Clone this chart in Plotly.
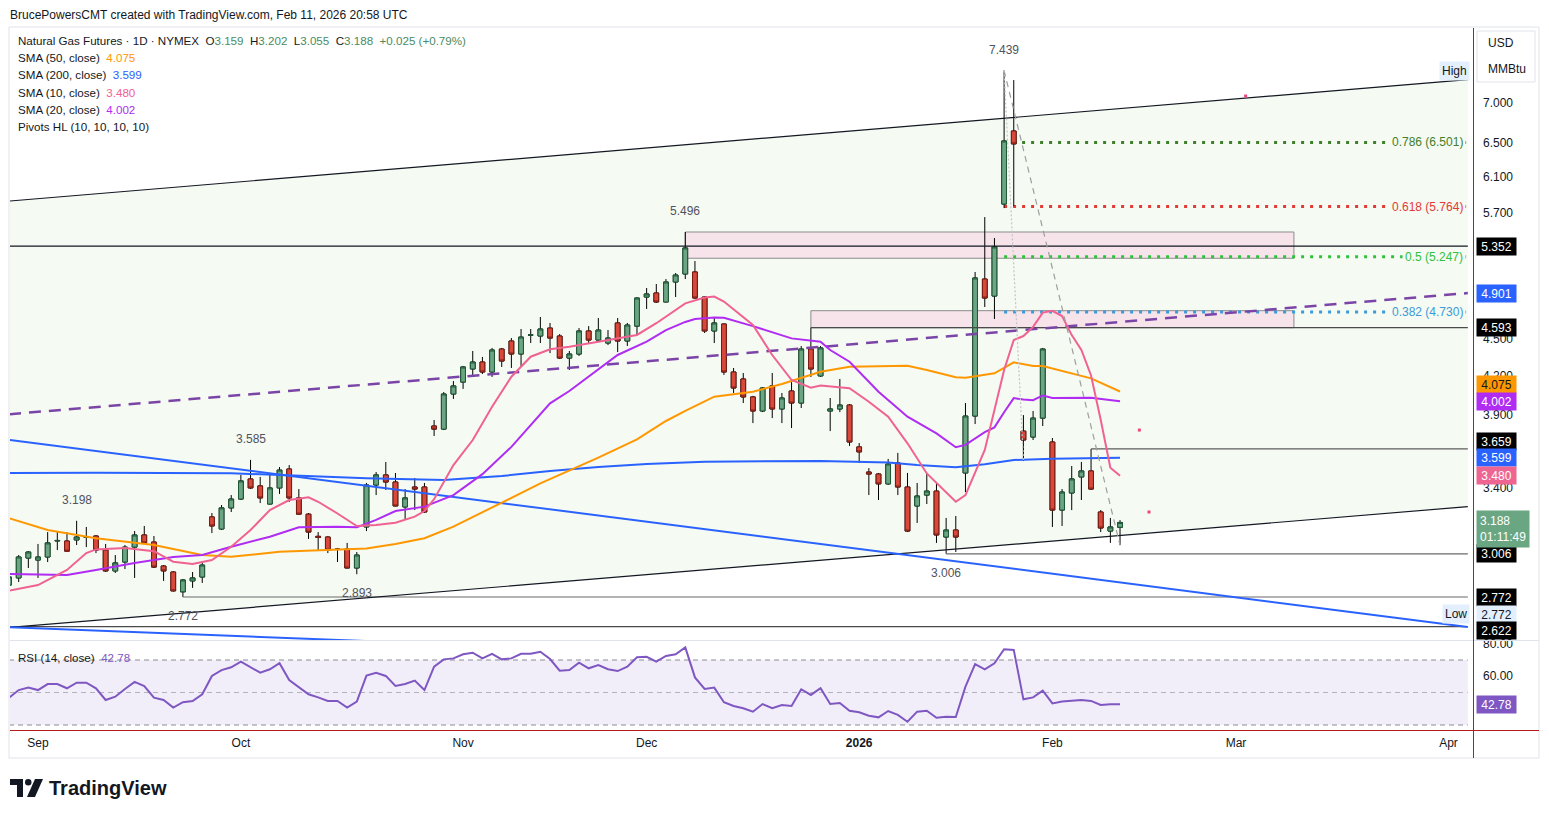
import math
import pandas as pd
import plotly.graph_objects as go

# ------------------------------------------------------------------ data
holidays = ["2025-09-01", "2025-11-27", "2025-12-25", "2026-01-01",
            "2026-01-19", "2026-02-16", "2026-04-03"]

opens = [2.835, 2.873, 2.982, 2.971, 2.988, 3.079, 3.079, 3.085, 3.100, 3.108,
         3.027, 2.911, 2.960, 3.044, 3.114, 3.073, 2.938, 2.905, 2.799, 2.857,
         2.878, 3.221, 3.149, 3.276, 3.331, 3.459, 3.414, 3.300, 3.401, 3.524,
         3.338, 3.238, 3.106, 3.102, 3.033, 3.033, 2.927, 3.161, 3.420, 3.485,
         3.439, 3.282, 3.407, 3.407, 3.820, 3.798, 4.056, 4.148, 4.251, 4.307,
         4.227, 4.413, 4.480, 4.372, 4.530, 4.522, 4.590, 4.522, 4.339, 4.372,
         4.565, 4.488, 4.463, 4.634, 4.480, 4.607, 4.865, 4.902, 4.820, 5.004,
         5.080, 5.099, 4.865, 4.565, 4.625, 4.227, 4.172, 4.034, 3.929, 4.118,
         3.944, 4.079, 3.988, 4.413, 4.196, 3.929, 3.944, 3.973, 3.673, 3.504,
         3.491, 3.427, 3.564, 3.407, 3.288, 3.356, 3.381, 3.102, 3.143, 3.498,
         3.892, 5.032, 4.874, 5.792, 6.642, 3.784, 3.742, 3.877, 3.707, 3.263,
         3.369, 3.472, 3.511, 3.251, 3.137, 3.159]
highs = [2.894, 2.999, 3.021, 3.062, 3.131, 3.131, 3.131, 3.198, 3.161, 3.114,
         3.062, 2.999, 3.056, 3.137, 3.167, 3.108, 2.943, 2.910, 2.867, 2.905,
         2.960, 3.245, 3.294, 3.356, 3.485, 3.585, 3.472, 3.485, 3.537, 3.550,
         3.394, 3.245, 3.131, 3.106, 3.039, 3.068, 3.016, 3.433, 3.504, 3.571,
         3.498, 3.394, 3.465, 3.433, 3.863, 4.071, 4.156, 4.275, 4.397, 4.348,
         4.422, 4.422, 4.505, 4.582, 4.582, 4.686, 4.634, 4.539, 4.397, 4.590,
         4.607, 4.677, 4.573, 4.677, 4.634, 4.860, 4.948, 4.985, 5.032, 5.089,
         5.496, 5.205, 4.874, 4.686, 4.630, 4.259, 4.219, 4.042, 4.110, 4.219,
         4.064, 4.148, 4.438, 4.593, 4.438, 4.026, 4.172, 3.980, 3.700, 3.530,
         3.498, 3.591, 3.632, 3.498, 3.433, 3.498, 3.433, 3.215, 3.227, 3.988,
         5.099, 5.652, 5.434, 7.439, 7.308, 3.899, 3.929, 4.422, 3.735, 3.394,
         3.544, 3.571, 3.659, 3.263, 3.215, 3.202]
lows = [2.820, 2.851, 2.927, 2.873, 2.960, 3.027, 3.018, 3.056, 3.044, 3.010,
        2.905, 2.900, 2.921, 2.873, 3.065, 2.927, 2.857, 2.800, 2.772, 2.820,
        2.846, 3.125, 3.143, 3.251, 3.325, 3.394, 3.306, 3.298, 3.363, 3.313,
        3.236, 3.091, 3.027, 3.010, 2.960, 2.925, 2.893, 3.137, 3.356, 3.388,
        3.286, 3.203, 3.263, 3.245, 3.749, 3.791, 4.019, 4.095, 4.188, 4.211,
        4.188, 4.267, 4.259, 4.275, 4.463, 4.463, 4.380, 4.331, 4.243, 4.356,
        4.463, 4.471, 4.446, 4.388, 4.438, 4.530, 4.757, 4.811, 4.818, 4.865,
        5.032, 4.850, 4.548, 4.463, 4.204, 4.064, 3.988, 3.841, 3.921, 3.877,
        3.841, 3.805, 3.951, 4.188, 4.188, 3.784, 3.921, 3.680, 3.564, 3.356,
        3.325, 3.420, 3.356, 3.131, 3.185, 3.300, 3.068, 3.006, 3.016, 3.375,
        3.834, 4.775, 4.669, 5.748, 5.769, 3.577, 3.721, 3.820, 3.161, 3.167,
        3.263, 3.325, 3.388, 3.131, 3.068, 3.055]
closes = [2.878, 2.988, 3.016, 2.988, 3.068, 3.082, 3.021, 3.102, 3.104, 3.027,
          2.911, 2.955, 3.044, 3.114, 3.068, 2.932, 2.911, 2.804, 2.862, 2.873,
          2.943, 3.167, 3.276, 3.331, 3.446, 3.401, 3.338, 3.401, 3.517, 3.338,
          3.238, 3.131, 3.100, 3.027, 3.031, 2.927, 2.999, 3.420, 3.485, 3.439,
          3.288, 3.338, 3.394, 3.251, 3.798, 4.056, 4.118, 4.267, 4.307, 4.227,
          4.405, 4.315, 4.372, 4.513, 4.531, 4.582, 4.505, 4.339, 4.372, 4.565,
          4.488, 4.573, 4.505, 4.480, 4.616, 4.856, 4.893, 4.820, 5.004, 5.070,
          5.334, 4.856, 4.565, 4.634, 4.227, 4.102, 4.034, 3.929, 4.102, 3.944,
          4.026, 3.988, 4.413, 4.251, 4.422, 3.944, 3.973, 3.707, 3.639, 3.491,
          3.427, 3.557, 3.407, 3.137, 3.350, 3.381, 3.114, 3.143, 3.102, 3.892,
          5.042, 4.856, 5.344, 6.519, 6.483, 3.721, 3.877, 4.413, 3.263, 3.375,
          3.459, 3.511, 3.394, 3.155, 3.161, 3.188]
rsi = [46.8, 51.5, 53.0, 51.5, 55.2, 55.2, 52.6, 56.0, 56.0, 52.6,
       45.4, 47.4, 52.2, 56.5, 54.0, 46.8, 45.4, 40.7, 44.0, 44.8,
       48.9, 60.2, 63.8, 65.5, 69.0, 65.5, 62.2, 64.3, 68.0, 57.7,
       53.2, 48.9, 47.0, 44.8, 44.8, 40.7, 44.4, 60.4, 62.2, 60.2,
       54.0, 55.2, 57.3, 51.5, 65.9, 70.4, 71.0, 73.5, 74.5, 71.0,
       73.8, 70.4, 71.0, 73.8, 73.8, 75.1, 70.6, 63.4, 63.8, 68.4,
       64.9, 66.9, 64.3, 63.2, 65.9, 71.7, 72.0, 69.0, 72.5, 73.5,
       77.8, 59.3, 52.2, 53.0, 44.0, 41.7, 40.3, 38.2, 42.9, 40.3,
       42.3, 41.7, 52.0, 48.5, 52.6, 42.9, 43.5, 38.8, 37.8, 35.7,
       34.7, 38.6, 36.2, 32.0, 38.2, 38.8, 34.5, 35.1, 34.9, 53.6,
       67.5, 64.3, 68.0, 76.6, 76.2, 45.8, 47.0, 51.1, 43.3, 44.4,
       45.0, 45.4, 44.8, 42.3, 42.7, 42.78]

sma10_dates = ["2025-08-27", "2025-09-02", "2025-09-05", "2025-09-09", "2025-09-10", "2025-09-15",
               "2025-09-18", "2025-09-22", "2025-09-24", "2025-09-26", "2025-09-30", "2025-10-02",
               "2025-10-06", "2025-10-08", "2025-10-10", "2025-10-13", "2025-10-15", "2025-10-17",
               "2025-10-21", "2025-10-23", "2025-10-27", "2025-10-28", "2025-10-29", "2025-10-30",
               "2025-10-31", "2025-11-04", "2025-11-06", "2025-11-10", "2025-11-12", "2025-11-14",
               "2025-11-18", "2025-11-21", "2025-11-28", "2025-12-02", "2025-12-05", "2025-12-09",
               "2025-12-10", "2025-12-11", "2025-12-16", "2025-12-18", "2025-12-22", "2025-12-24",
               "2025-12-26", "2025-12-31", "2026-01-05", "2026-01-07", "2026-01-09", "2026-01-13",
               "2026-01-16", "2026-01-20", "2026-01-21", "2026-01-22", "2026-01-23", "2026-01-26",
               "2026-01-27", "2026-01-28", "2026-01-29", "2026-01-30", "2026-02-02", "2026-02-03",
               "2026-02-04", "2026-02-05", "2026-02-06", "2026-02-09", "2026-02-10", "2026-02-11"]
sma10_vals = [2.805, 2.835, 2.916, 3.010, 3.031, 3.039, 3.021, 2.962, 2.949, 2.971, 3.046, 3.143,
              3.263, 3.325, 3.342, 3.314, 3.242, 3.167, 3.173, 3.186, 3.223, 3.257, 3.33, 3.44,
              3.55, 3.721, 3.961, 4.190, 4.350, 4.411, 4.432, 4.474, 4.531, 4.632, 4.808, 4.860,
              4.869, 4.824, 4.617, 4.364, 4.164, 4.105, 4.121, 4.100, 3.998, 3.887, 3.698, 3.495,
              3.314, 3.356, 3.50, 3.652, 3.936, 4.243, 4.488, 4.522, 4.60, 4.725, 4.741, 4.695,
              4.53, 4.405, 4.20, 3.865, 3.533, 3.480]

sma20_dates = ["2025-08-27", "2025-09-05", "2025-09-10", "2025-09-16", "2025-09-22", "2025-09-25",
               "2025-09-30", "2025-10-06", "2025-10-09", "2025-10-15", "2025-10-17", "2025-10-21",
               "2025-10-23", "2025-10-28", "2025-10-31", "2025-11-05", "2025-11-10", "2025-11-11",
               "2025-11-14", "2025-11-18", "2025-11-20", "2025-11-25", "2025-12-01", "2025-12-03",
               "2025-12-05", "2025-12-08", "2025-12-10", "2025-12-11", "2025-12-16", "2025-12-22",
               "2025-12-26", "2025-12-29", "2025-12-31", "2026-01-06", "2026-01-09", "2026-01-14",
               "2026-01-16", "2026-01-20", "2026-01-22", "2026-01-23", "2026-01-26", "2026-01-27",
               "2026-01-28", "2026-01-29", "2026-01-30", "2026-02-02", "2026-02-06", "2026-02-11"]
sma20_vals = [2.894, 2.889, 2.916, 2.955, 2.988, 2.999, 3.046, 3.104, 3.159, 3.163, 3.159, 3.203,
              3.257, 3.284, 3.356, 3.49, 3.673, 3.748, 3.986, 4.079, 4.190, 4.364, 4.474, 4.573,
              4.643, 4.669, 4.682, 4.680, 4.607, 4.502, 4.474, 4.405, 4.309, 4.074, 3.887, 3.767,
              3.671, 3.687, 3.776, 3.81, 3.92, 4.025, 4.014, 4.009, 4.045, 4.026, 4.028, 4.002]

sma50_dates = ["2025-08-27", "2025-09-03", "2025-09-10", "2025-09-18", "2025-09-25", "2025-09-30",
               "2025-10-07", "2025-10-15", "2025-10-20", "2025-10-23", "2025-10-28", "2025-10-31",
               "2025-11-07", "2025-11-13", "2025-11-21", "2025-11-28", "2025-12-03", "2025-12-05",
               "2025-12-10", "2025-12-16", "2025-12-19", "2025-12-26", "2025-12-31", "2026-01-09",
               "2026-01-13", "2026-01-16", "2026-01-20", "2026-01-23", "2026-01-27", "2026-01-29",
               "2026-01-30", "2026-02-06", "2026-02-11"]
sma50_vals = [3.213, 3.143, 3.095, 3.056, 2.999, 2.990, 3.017, 3.031, 3.036, 3.062, 3.095, 3.163,
              3.31, 3.43, 3.60, 3.725, 3.856, 3.93, 4.036, 4.074, 4.133, 4.229, 4.268, 4.276,
              4.243, 4.185, 4.182, 4.217, 4.304, 4.275, 4.275, 4.177, 4.075]

sma200_dates = ["2025-08-27", "2025-09-10", "2025-09-30", "2025-10-20", "2025-10-30", "2025-11-07",
                "2025-11-14", "2025-11-21", "2025-12-01", "2025-12-09", "2025-12-26", "2026-01-07",
                "2026-01-12", "2026-01-16", "2026-01-22", "2026-01-27", "2026-02-02", "2026-02-11"]
sma200_vals = [3.498, 3.500, 3.496, 3.463, 3.452, 3.478, 3.511, 3.537, 3.557, 3.573, 3.577, 3.567,
               3.550, 3.535, 3.555, 3.584, 3.592, 3.599]

# month tick labels
tick_dates = ["2025-09-02", "2025-10-01", "2025-11-03", "2025-12-01",
              "2026-01-02", "2026-02-02", "2026-03-02", "2026-04-01"]
tick_labels = ["Sep", "Oct", "Nov", "Dec", "<b>2026</b>", "Feb", "Mar", "Apr"]
price_ticks = [3.4, 3.9, 4.2, 4.5, 5.7, 6.1, 6.5, 7.0]
rsi_ticks = [60, 80]

# drawings (anchor dates / prices)
channel_dates = ["2025-08-27", "2026-04-06"]
channel_upper = [5.824, 7.314]
channel_lower = [2.618, 3.284]
channel_mid = [3.905, 4.901]
blue_trend_dates = ["2025-08-27", "2026-04-06"]
blue_trend_vals = [3.722, 2.620]
blue_trend2_dates = ["2025-08-27", "2025-10-23"]
blue_trend2_vals = [2.619, 2.547]
rays = [("2025-08-27", 5.352, "#131722"), ("2025-12-24", 4.593, "#4a4a4a"),
        ("2026-02-06", 3.659, "#5d5d5d"), ("2026-01-15", 3.006, "#6a6a6a"),
        ("2025-09-23", 2.772, "#6a6a6a"), ("2025-08-27", 2.622, "#4a4a4a")]
zones = [("2025-12-05", "2026-03-10", 5.496, 5.232),
         ("2025-12-24", "2026-03-10", 4.742, 4.593)]
fib_start = "2026-01-26"
fib_levels = [("0.786", 6.501, "#3f7f2a"), ("0.618", 5.764, "#e53935"),
              ("0.5", 5.247, "#2fc23a"), ("0.382", 4.730, "#3b9ad9")]
fib_trend = [("2026-01-26", 7.439), ("2026-02-11", 3.055)]
fib_trend_old = [("2026-01-26", 7.439), ("2026-01-28", 3.577)]
pink_dot_dates = ["2026-02-13", "2026-02-17", "2026-03-03"]
pink_dot_vals = [3.791, 3.251, 7.093]
pivots = [("2026-01-26", 7.439, "high"), ("2025-12-05", 5.496, "high"),
          ("2025-10-02", 3.585, "high"), ("2025-09-08", 3.198, "high"),
          ("2025-10-17", 2.893, "low"), ("2025-09-23", 2.772, "low"),
          ("2026-01-15", 3.006, "low")]

# ------------------------------------------------------------------ geometry
W, H = 1549, 818
PL, PR, PT, PB = 10, 1473, 28, 730
MAIN_BOT, RSI_TOP = 640.5, 641
BAR_PX = 9.661
PX_PER_LOG10 = 1227.96


def xp(px):
    return (px - PL) / (PR - PL)


def yp(py):
    return (PB - py) / (PB - PT)


cal = pd.bdate_range("2025-08-27", "2026-04-30", freq="C", holidays=holidays)
cal_str = [d.strftime("%Y-%m-%d") for d in cal]
pos = {d: k for k, d in enumerate(cal_str)}
n = len(closes)
assert all(len(a) == n for a in (opens, highs, lows, rsi))
dates = cal_str[:n]
xs = [pos[d] for d in dates]

X0 = 3 + (PL - 38) / BAR_PX
X1 = 3 + (PR - 38) / BAR_PX
RIGHT = pos["2026-04-06"]
Y_TOP = math.log10(7) + (103 - PT) / PX_PER_LOG10
Y_BOT = math.log10(7) - (MAIN_BOT - 103) / PX_PER_LOG10
RSI_HI = 70 + (660 - RSI_TOP) / 1.625
RSI_LO = 70 - (PB - 660) / 1.625

FONT = "Liberation Sans, Arial, sans-serif"
TXT = "#131722"
CH_BG = "#f5faf3"

fig = go.Figure()
shapes = []


def line_trace(x, y, color, width=1.0, dash=None, xaxis="x", yaxis="y", mode="lines", **kw):
    fig.add_trace(go.Scatter(x=x, y=y, mode=mode, line=dict(color=color, width=width, dash=dash),
                             hoverinfo="skip", showlegend=False, xaxis=xaxis, yaxis=yaxis, **kw))


# ---- background drawings as shapes (below all traces)
cx = [pos[d] for d in channel_dates]
shapes.append(dict(type="path", xref="x", yref="y", layer="below",
                   path="M %f,%f L %f,%f L %f,%f L %f,%f Z" % (
                       cx[0], channel_upper[0], cx[1], channel_upper[1],
                       cx[1], channel_lower[1], cx[0], channel_lower[0]),
                   fillcolor=CH_BG, line=dict(width=0)))
for d0, d1, top, bot in zones:
    shapes.append(dict(type="rect", xref="x", yref="y", layer="below",
                       x0=pos[d0], x1=pos[d1], y0=bot, y1=top,
                       fillcolor="#f7e4ea", line=dict(color="#8c8c8c", width=1)))
for lab, p, c in fib_levels:
    shapes.append(dict(type="line", xref="x", yref="y", layer="below",
                       x0=pos[fib_start], x1=RIGHT, y0=p, y1=p,
                       line=dict(color=c, width=3, dash="3px,6px")))

# ---- candles: wicks then bodies
fig.add_trace(go.Candlestick(x=xs, open=opens, high=highs, low=lows, close=closes,
                             increasing=dict(line=dict(color="#000000", width=1), fillcolor="#6ba583"),
                             decreasing=dict(line=dict(color="#000000", width=1), fillcolor="#d9493b"),
                             whiskerwidth=0, hoverinfo="skip", showlegend=False))
body_hi = [max(o, c) for o, c in zip(opens, closes)]
body_lo = [min(o, c) for o, c in zip(opens, closes)]
fig.add_trace(go.Candlestick(x=xs, open=opens, high=body_hi, low=body_lo, close=closes,
                             increasing=dict(line=dict(color="#1f5a37", width=1), fillcolor="#6ba583"),
                             decreasing=dict(line=dict(color="#7a1c12", width=1), fillcolor="#d9493b"),
                             whiskerwidth=0, hoverinfo="skip", showlegend=False))

# ---- line drawings
for d, p, c in rays:
    line_trace([pos[d], RIGHT], [p, p], c, 1.2)
line_trace(cx, channel_upper, "#131722", 1.2)
line_trace(cx, channel_lower, "#131722", 1.2)
line_trace(cx, channel_mid, "#7b45a8", 2.5, dash="12px,8px")
line_trace([pos[d] for d in blue_trend_dates], blue_trend_vals, "#2962ff", 2)
line_trace([pos[d] for d in blue_trend2_dates], blue_trend2_vals, "#2962ff", 2)

# ---- SMAs
line_trace([pos[d] for d in sma200_dates], sma200_vals, "#2962ff", 2)
line_trace([pos[d] for d in sma50_dates], sma50_vals, "#ff9800", 2)
line_trace([pos[d] for d in sma20_dates], sma20_vals, "#b02cf2", 2)
line_trace([pos[d] for d in sma10_dates], sma10_vals, "#f06292", 2)

# ---- fib trend lines
line_trace([pos[d] for d, _ in fib_trend], [p for _, p in fib_trend], "#9e9e9e", 1.2, dash="6px,5px")
line_trace([pos[d] for d, _ in fib_trend_old], [p for _, p in fib_trend_old], "#c4c4c4", 1.2, dash="2px,2px")

# ---- pink dots
fig.add_trace(go.Scatter(x=[pos[d] for d in pink_dot_dates], y=pink_dot_vals, mode="markers",
                         marker=dict(symbol="square", size=3, color="#f0457d"),
                         hoverinfo="skip", showlegend=False))

# ---- RSI pane
line_trace([0, RIGHT, RIGHT, 0, 0], [30, 30, 70, 70, 30], "#f2eef9", 0, xaxis="x2", yaxis="y2",
           fill="toself", fillcolor="#f2eef9")
line_trace([0, RIGHT], [70, 70], "#8a8d96", 1, dash="5px,4px", xaxis="x2", yaxis="y2")
line_trace([0, RIGHT], [50, 50], "#b0b3bb", 1, dash="5px,4px", xaxis="x2", yaxis="y2")
line_trace([0, RIGHT], [30, 30], "#8a8d96", 1, dash="5px,4px", xaxis="x2", yaxis="y2")
line_trace(xs, rsi, "#7e57c2", 2, xaxis="x2", yaxis="y2")

# ------------------------------------------------------------------ annotations
ann = []


def A(**kw):
    base = dict(showarrow=False, font=dict(family=FONT, size=12, color=TXT))
    base.update(kw)
    ann.append(base)


A(x=xp(8), y=yp(15), xref="paper", yref="paper", xanchor="left", yanchor="middle",
  text="BrucePowersCMT created with TradingView.com, Feb 11, 2026 20:58 UTC",
  font=dict(family=FONT, size=12, color=TXT))

G = "#4a8c64"
nb = "\u00a0"
legend_rows = [
    "Natural Gas Futures · 1D · NYMEX" + nb * 2 + "O<span style='color:%s'>3.159</span>" % G + nb * 2 +
    "H<span style='color:%s'>3.202</span>" % G + nb * 2 + "L<span style='color:%s'>3.055</span>" % G + nb * 2 +
    "C<span style='color:%s'>3.188</span>" % G + nb * 2 + "<span style='color:%s'>+0.025 (+0.79%%)</span>" % G,
    "SMA (50, close)" + nb * 2 + "<span style='color:#ff9800'>4.075</span>",
    "SMA (200, close)" + nb * 2 + "<span style='color:#2962ff'>3.599</span>",
    "SMA (10, close)" + nb * 2 + "<span style='color:#f06292'>3.480</span>",
    "SMA (20, close)" + nb * 2 + "<span style='color:#b02cf2'>4.002</span>",
    "Pivots HL (10, 10, 10, 10)",
]
for j, t in enumerate(legend_rows):
    A(x=xp(16), y=yp(41 + 17 * j), xref="paper", yref="paper", xanchor="left", yanchor="middle", text=t,
      font=dict(family=FONT, size=11.6, color=TXT))

A(x=xp(16), y=yp(657), xref="paper", yref="paper", xanchor="left", yanchor="middle",
  text="RSI (14, close)" + nb * 2 + "<span style='color:#7e57c2'>42.78</span>",
  font=dict(family=FONT, size=11.6, color=TXT))

# pivot labels
for d, p, kind in pivots:
    A(x=pos[d], y=math.log10(p), xref="x", yref="y", xanchor="center", yanchor="middle",
      yshift=21 if kind == "high" else -19, text="%.3f" % p,
      font=dict(family=FONT, size=12, color="#50535e"))

# fib labels
for lab, p, c in fib_levels:
    A(x=xp(1466), y=math.log10(p), xref="paper", yref="y", xanchor="right", yanchor="middle",
      text="%s (%.3f)" % (lab, p), bgcolor=CH_BG, borderpad=2, font=dict(family=FONT, size=12, color=c))

# right axis price labels
price_labels = [(5.352, "5.352", "#000000", "#ffffff", 0), (4.901, "4.901", "#2962ff", "#ffffff", 0),
                (4.593, "4.593", "#000000", "#ffffff", 0), (4.075, "4.075", "#ff9800", "#131722", 7.5),
                (4.002, "4.002", "#b02cf2", "#ffffff", 0), (3.659, "3.659", "#000000", "#ffffff", 7.5),
                (3.599, "3.599", "#2962ff", "#ffffff", 0), (3.480, "3.480", "#ee6592", "#ffffff", 0),
                (3.006, "3.006", "#000000", "#ffffff", 0), (2.772, "2.772", "#000000", "#ffffff", 0),
                (2.772, "2.772", "#e3effd", "#131722", -17), (2.622, "2.622", "#000000", "#ffffff", -4)]
for p, t, bg, fg, sh in price_labels:
    A(x=xp(1476), y=math.log10(p), xref="paper", yref="y", xanchor="left", yanchor="middle",
      yshift=sh, text=t, bgcolor=bg, width=35, height=13, borderpad=2, align="center",
      font=dict(family=FONT, size=12, color=fg))
A(x=xp(1476), y=math.log10(3.188), xref="paper", yref="y", xanchor="left", yanchor="middle",
  yshift=-7, text="3.188<br>01:11:49", bgcolor="#6aa682", borderpad=3, align="left",
  font=dict(family=FONT, size=12, color="#ffffff"))
A(x=xp(1470), y=math.log10(7.439), xref="paper", yref="y", xanchor="right", yanchor="middle",
  text="High", bgcolor="#e3effd", borderpad=2, font=dict(family=FONT, size=12, color=TXT))
A(x=xp(1470), y=math.log10(2.772), xref="paper", yref="y", xanchor="right", yanchor="middle",
  yshift=-17, text="Low", bgcolor="#e3effd", borderpad=2, font=dict(family=FONT, size=12, color=TXT))
A(x=xp(1476), y=42.78, xref="paper", yref="y2", xanchor="left", yanchor="middle",
  text="42.78", bgcolor="#7e57c2", width=35, height=13, borderpad=2,
  font=dict(family=FONT, size=12, color="#ffffff"))

# currency box text
A(x=xp(1486), y=yp(43), xref="paper", yref="paper", xanchor="left", yanchor="middle", text="USD")
A(x=xp(1486), y=yp(69), xref="paper", yref="paper", xanchor="left", yanchor="middle", text="MMBtu")

# logo text
A(x=xp(47), y=yp(788), xref="paper", yref="paper", xanchor="left", yanchor="middle",
  text="<b>TradingView</b>", font=dict(family=FONT, size=20, color=TXT))

# ------------------------------------------------------------------ frame / axes shapes


def S(**kw):
    base = dict(xref="paper", yref="paper", layer="above")
    base.update(kw)
    shapes.append(base)


S(type="rect", x0=xp(9), x1=xp(1539), y0=yp(27), y1=yp(758), line=dict(color="#e0e3eb", width=1))
S(type="line", x0=xp(10), x1=xp(1539), y0=yp(640.5), y1=yp(640.5), line=dict(color="#e0e3eb", width=1))
S(type="line", x0=xp(1473.5), x1=xp(1473.5), y0=yp(28), y1=yp(758), line=dict(color="#b71c1c", width=1))
S(type="line", x0=xp(10), x1=xp(1539), y0=yp(730.5), y1=yp(730.5), line=dict(color="#b71c1c", width=1))
S(type="rect", x0=xp(1477), x1=xp(1535), y0=yp(31), y1=yp(82), line=dict(color="#e0e3eb", width=1),
  fillcolor="#ffffff", layer="below")
# logo icon
S(type="rect", x0=xp(10), x1=xp(23), y0=yp(779), y1=yp(785), fillcolor=TXT, line=dict(width=0))
S(type="rect", x0=xp(17), x1=xp(23), y0=yp(779), y1=yp(797), fillcolor=TXT, line=dict(width=0))
S(type="circle", x0=xp(25), x1=xp(31.5), y0=yp(779), y1=yp(785.5), fillcolor=TXT, line=dict(width=0))
S(type="path", path="M %f,%f L %f,%f L %f,%f L %f,%f Z" % (xp(35), yp(779), xp(43), yp(779),
                                                          xp(35), yp(797), xp(27), yp(797)),
  fillcolor=TXT, line=dict(width=0))

# ------------------------------------------------------------------ layout
fig.update_layout(
    width=W, height=H, template="none",
    margin=dict(l=PL, r=W - PR, t=PT, b=H - PB, pad=0),
    paper_bgcolor="#ffffff", plot_bgcolor="#ffffff", showlegend=False,
    font=dict(family=FONT, size=12, color=TXT),
    xaxis=dict(domain=[0, 1], range=[X0, X1], anchor="y", showticklabels=False, showgrid=False,
               zeroline=False, showline=False, ticks="", rangeslider=dict(visible=False), fixedrange=True),
    yaxis=dict(domain=[yp(MAIN_BOT), 1], type="log", range=[Y_BOT, Y_TOP], side="right", anchor="x",
               tickvals=price_ticks, ticktext=["%.3f" % v for v in price_ticks], showgrid=False,
               zeroline=False, showline=False, ticks="", ticklabelstandoff=9, automargin=False,
               tickfont=dict(family=FONT, size=12, color=TXT)),
    xaxis2=dict(domain=[0, 1], range=[X0, X1], anchor="y2", tickvals=[pos[d] for d in tick_dates],
                ticktext=tick_labels, showgrid=False, zeroline=False, showline=False, ticks="",
                ticklabelstandoff=4, automargin=False, tickfont=dict(family=FONT, size=12, color=TXT)),
    yaxis2=dict(domain=[0, yp(RSI_TOP)], range=[RSI_LO, RSI_HI], side="right", anchor="x2",
                tickvals=rsi_ticks, ticktext=["%.2f" % v for v in rsi_ticks], showgrid=False,
                zeroline=False, showline=False, ticks="", ticklabelstandoff=9, automargin=False,
                tickfont=dict(family=FONT, size=12, color=TXT)),
    annotations=ann, shapes=shapes,
)

fig.write_html("out.html")
